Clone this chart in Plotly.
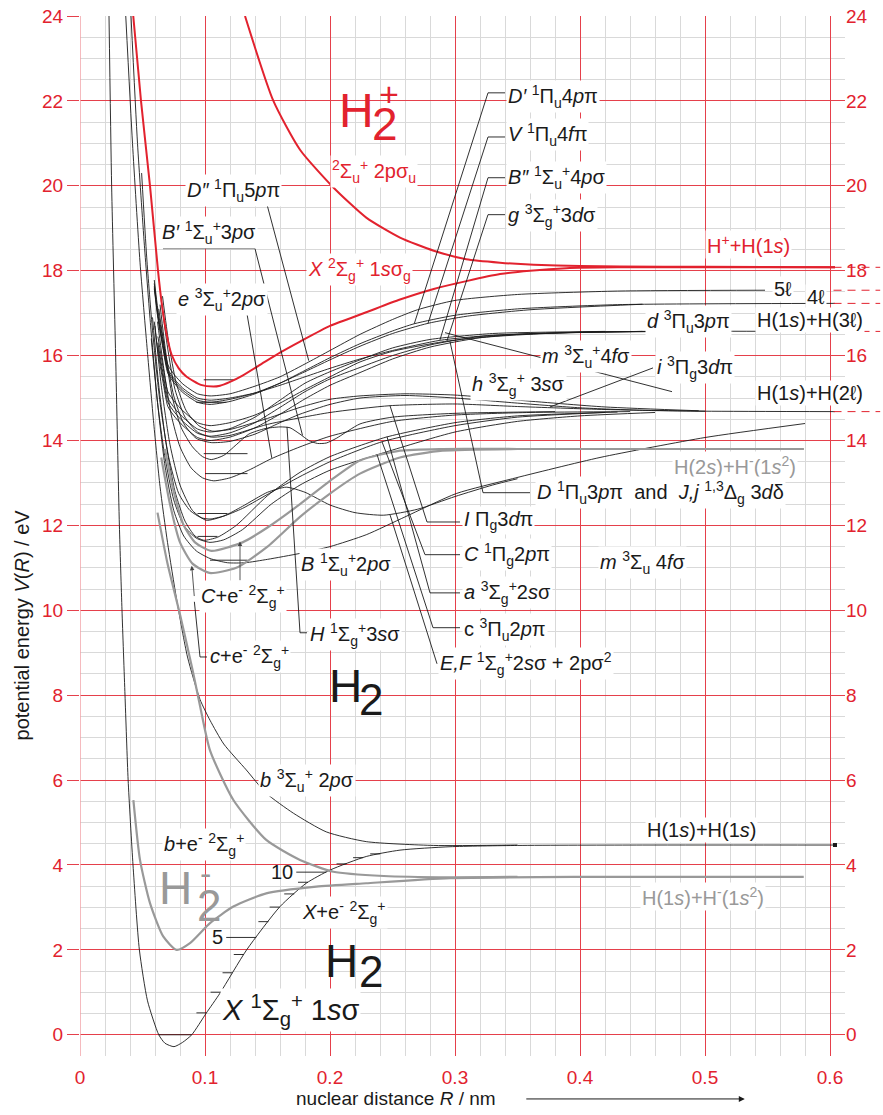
import numpy as np
import plotly.graph_objects as go

RED = '#e2222e'
RED_GRID = '#e5404b'
MINOR_GRID = '#d9d9d9'
GRAY = '#999999'
INK = '#1a1a1a'
FONT = 'Liberation Sans, Arial, Helvetica, sans-serif'

# ---------------- potential energy curves: R / nm, V / eV ----------------
# H2 ground state X 1Sigma_g+
R_X = [0.0232, 0.0253, 0.0285, 0.0315, 0.0336, 0.036, 0.0385, 0.0424, 0.0475, 0.054, 0.063, 0.068,
       0.0752, 0.082, 0.0894, 0.101, 0.112, 0.1333, 0.16, 0.181, 0.2, 0.229, 0.256, 0.296, 0.35, 0.45, 0.604]
V_X = [24, 20, 16, 12, 10, 8, 6, 4, 2, 0.8, 0, -0.2,
       -0.28, -0.18, 0, 0.51, 0.98, 2.0, 3.02, 3.57, 3.88, 4.2, 4.35, 4.43, 4.46, 4.47, 4.47]
# vibrational levels of X (eV above v=0)
X_LEVELS = [0.0, 0.516, 1.003, 1.461, 1.891, 2.293, 2.665, 3.008, 3.318, 3.593, 3.831, 4.026, 4.172, 4.262]

# b 3Sigma_u+ 2p sigma (repulsive)
R_b = [0.0366, 0.042, 0.048, 0.0539, 0.059, 0.064, 0.07, 0.0774, 0.086, 0.096, 0.104, 0.115, 0.133,
       0.149, 0.1707, 0.197, 0.229, 0.283, 0.35]
V_b = [24, 21, 18.2, 16.1, 14.4, 12.92, 11.6, 10.24, 8.9, 7.9, 7.41, 6.85, 6.24,
       5.69, 5.22, 4.78, 4.55, 4.46, 4.47]

# n = 2 states
R_B = [0.0408, 0.046, 0.0515, 0.0565, 0.062, 0.068, 0.075, 0.083, 0.093, 0.104, 0.118, 0.132, 0.15,
       0.176, 0.2, 0.229, 0.26, 0.301, 0.346, 0.416, 0.5, 0.58]
V_B = [24, 21, 18.6, 16.7, 14.9, 13.4, 12.35, 11.75, 11.4, 11.22, 11.12, 11.12, 11.2,
       11.34, 11.5, 11.78, 12.2, 12.75, 13.1, 13.6, 14.07, 14.4]
R_C = [0.0493, 0.0534, 0.058, 0.064, 0.071, 0.079, 0.088, 0.097, 0.104, 0.115, 0.13, 0.153, 0.176,
       0.2, 0.2416, 0.3, 0.35, 0.42]
V_C = [20.3, 18.3, 16.6, 14.9, 13.6, 12.75, 12.35, 12.18, 12.15, 12.22, 12.4, 12.78, 13.15,
       13.5, 13.97, 14.35, 14.55, 14.66]
R_c = [0.057, 0.062, 0.068, 0.075, 0.083, 0.093, 0.104, 0.115, 0.13, 0.153, 0.176, 0.2, 0.245,
       0.3, 0.35, 0.4, 0.46]
V_c = [16.4, 14.9, 13.6, 12.6, 12.0, 11.7, 11.6, 11.66, 11.9, 12.5, 12.95, 13.3, 13.73,
       14.2, 14.45, 14.58, 14.66]
R_a = [0.058, 0.063, 0.069, 0.076, 0.084, 0.092, 0.099, 0.11, 0.125, 0.15, 0.176, 0.2, 0.245,
       0.3, 0.35, 0.43]
V_a = [16.9, 15.3, 13.9, 12.8, 12.1, 11.75, 11.65, 11.72, 12.0, 12.7, 13.25, 13.62, 14.08,
       14.42, 14.58, 14.67]
R_EF = [0.06, 0.065, 0.072, 0.08, 0.09, 0.101, 0.115, 0.13, 0.15, 0.165, 0.18, 0.2, 0.22, 0.243,
        0.27, 0.3, 0.33, 0.35]
V_EF = [16.7, 15.3, 13.9, 12.95, 12.35, 12.12, 12.22, 12.45, 12.78, 12.9, 12.78, 12.48, 12.3, 12.24,
        12.38, 12.68, 12.95, 13.1]
R_e = [0.062, 0.067, 0.073, 0.08, 0.089, 0.098, 0.107, 0.12, 0.135, 0.153, 0.176, 0.2, 0.25,
       0.3, 0.36, 0.44]
V_e = [16.8, 15.7, 14.6, 13.85, 13.35, 13.12, 13.05, 13.12, 13.3, 13.57, 13.85, 14.1, 14.45,
       14.6, 14.66, 14.68]
R_Bp = [0.063, 0.068, 0.074, 0.081, 0.09, 0.098, 0.105, 0.115, 0.125, 0.135, 0.148, 0.16, 0.168,
        0.176, 0.183, 0.19, 0.197, 0.205, 0.224, 0.25, 0.3, 0.38]
V_Bp = [17.1, 16.1, 15.0, 14.3, 13.85, 13.62, 13.55, 13.65, 13.9, 14.15, 14.28, 14.32, 14.3,
        14.15, 14.0, 13.93, 13.94, 14.05, 14.39, 14.55, 14.64, 14.68]

# n = 3 states correlating with H(1s)+H(2l)
R_h = [0.064, 0.069, 0.075, 0.083, 0.093, 0.105, 0.12, 0.14, 0.16, 0.176, 0.2, 0.224, 0.26, 0.3,
       0.35, 0.4, 0.45, 0.5, 0.604]
V_h = [17.2, 16.0, 15.05, 14.4, 14.05, 13.95, 13.98, 14.15, 14.42, 14.62, 14.85, 15.0, 15.06, 15.0,
       14.88, 14.77, 14.71, 14.69, 14.68]
R_I = [0.065, 0.07, 0.076, 0.084, 0.094, 0.105, 0.12, 0.15, 0.2, 0.248, 0.3, 0.35, 0.42, 0.5]
V_I = [17.3, 16.2, 15.2, 14.55, 14.2, 14.08, 14.12, 14.38, 14.66, 14.82, 14.86, 14.8, 14.73, 14.69]
R_m = [0.066, 0.071, 0.077, 0.085, 0.095, 0.106, 0.12, 0.15, 0.176, 0.2, 0.224, 0.26, 0.3, 0.35,
       0.42, 0.495]
V_m = [17.4, 16.3, 15.35, 14.7, 14.35, 14.22, 14.26, 14.52, 14.78, 14.97, 15.05, 15.1, 15.07, 14.95,
       14.79, 14.7]

# n = 3 states correlating with H(1s)+H(3l)
R_d = [0.0594, 0.0623, 0.0663, 0.0703, 0.076, 0.0823, 0.094, 0.104, 0.12, 0.14, 0.16, 0.18, 0.2,
       0.224, 0.25, 0.28, 0.32, 0.38, 0.45, 0.604]
V_d = [16.8, 16.1, 15.4, 14.8, 14.55, 14.35, 14.07, 14.0, 14.08, 14.3, 14.62, 14.98, 15.3,
       15.6, 15.92, 16.2, 16.42, 16.53, 16.57, 16.57]
R_D = [0.0623, 0.0663, 0.0703, 0.076, 0.0823, 0.094, 0.104, 0.12, 0.14, 0.16, 0.18, 0.2, 0.224,
       0.25, 0.28, 0.32, 0.4, 0.487]
V_D = [16.2, 15.5, 14.9, 14.65, 14.45, 14.17, 14.1, 14.18, 14.42, 14.78, 15.15, 15.45, 15.72,
       16.0, 16.25, 16.45, 16.55, 16.57]
R_i = [0.0623, 0.0663, 0.0703, 0.076, 0.0823, 0.094, 0.104, 0.12, 0.14, 0.16, 0.18, 0.2, 0.224,
       0.25, 0.28, 0.33, 0.42]
V_i = [16.3, 15.6, 15.0, 14.75, 14.55, 14.27, 14.2, 14.28, 14.55, 14.95, 15.35, 15.62, 15.9,
       16.18, 16.38, 16.52, 16.57]
R_g = [0.0623, 0.0663, 0.0703, 0.076, 0.0823, 0.094, 0.104, 0.12, 0.14, 0.16, 0.18, 0.2, 0.224,
       0.25, 0.2935, 0.35, 0.45]
V_g = [16.45, 15.75, 15.15, 14.9, 14.7, 14.42, 14.35, 14.42, 14.6, 14.88, 15.2, 15.5, 15.85,
       16.1, 16.34, 16.5, 16.57]

# n = 4 and n = 5 states
R_Bpp = [0.0594, 0.0623, 0.0663, 0.0703, 0.076, 0.0823, 0.094, 0.104, 0.12, 0.14, 0.16, 0.18, 0.2,
         0.224, 0.25, 0.288, 0.33, 0.4, 0.48]
V_Bpp = [17.7, 16.98, 16.28, 15.68, 15.43, 15.23, 15.0, 14.95, 15.0, 15.12, 15.3, 15.5, 15.7,
         15.92, 16.12, 16.36, 16.48, 16.55, 16.57]
R_V = [0.0594, 0.0623, 0.0663, 0.0703, 0.076, 0.0823, 0.094, 0.104, 0.12, 0.14, 0.16, 0.18, 0.2,
       0.224, 0.25, 0.2784, 0.31, 0.36, 0.45]
V_V = [17.63, 16.93, 16.23, 15.63, 15.38, 15.18, 14.95, 14.9, 14.97, 15.12, 15.35, 15.62, 15.9,
       16.22, 16.52, 16.76, 16.93, 17.08, 17.21]
R_Dp = [0.0594, 0.0623, 0.0663, 0.0703, 0.076, 0.0823, 0.094, 0.104, 0.12, 0.14, 0.16, 0.18, 0.2,
        0.224, 0.25, 0.2674, 0.3, 0.35, 0.43, 0.604]
V_Dp = [17.58, 16.88, 16.18, 15.58, 15.33, 15.13, 14.9, 14.85, 14.92, 15.1, 15.35, 15.65, 15.95,
        16.28, 16.58, 16.75, 16.95, 17.1, 17.2, 17.23]
R_Dpp = [0.0594, 0.0623, 0.0663, 0.0703, 0.076, 0.0823, 0.094, 0.104, 0.12, 0.14, 0.16, 0.183, 0.2,
         0.224, 0.25, 0.27, 0.3, 0.35, 0.43, 0.548]
V_Dpp = [17.78, 17.08, 16.38, 15.78, 15.53, 15.33, 15.1, 15.05, 15.1, 15.28, 15.5, 15.85, 16.12,
         16.5, 16.85, 17.08, 17.3, 17.44, 17.52, 17.54]

# H2+ ion
R_ion_X = [0.0426, 0.0488, 0.056, 0.0624, 0.0653, 0.0693, 0.0733, 0.079, 0.0853, 0.0967, 0.1067,
           0.112, 0.12, 0.13, 0.145, 0.16, 0.176, 0.2, 0.229, 0.256, 0.283, 0.31, 0.336, 0.36, 0.389,
           0.43, 0.604]
V_ion_X = [24, 22, 20, 18, 17.25, 16.5, 16.02, 15.7, 15.5, 15.31, 15.27,
           15.29, 15.38, 15.53, 15.8, 16.07, 16.33, 16.7, 17.02, 17.32, 17.57, 17.76, 17.92, 18.0, 18.06,
           18.08, 18.08]
R_ion_A = [0.132, 0.1547, 0.176, 0.2027, 0.229, 0.256, 0.283, 0.309, 0.336, 0.363, 0.4, 0.432, 0.5, 0.604]
V_ion_A = [24, 22, 20.85, 19.96, 19.25, 18.78, 18.47, 18.27, 18.19, 18.14, 18.11, 18.1, 18.09, 18.08]

# H2- resonances
R_Xe = [0.0427, 0.048, 0.056, 0.0667, 0.0773, 0.088, 0.104, 0.1227, 0.149, 0.189, 0.229, 0.296, 0.4, 0.579]
V_Xe = [5.53, 4.12, 3.1, 2.31, 2.0, 2.16, 2.63, 3.02, 3.33, 3.49, 3.57, 3.69, 3.72, 3.72]
R_be = [0.062, 0.07, 0.08, 0.09, 0.096, 0.104, 0.1227, 0.149, 0.176, 0.2027, 0.243, 0.296, 0.35]
V_be = [12.3, 11.1, 9.9, 8.6, 7.75, 6.7, 5.53, 4.59, 4.12, 3.84, 3.74, 3.71, 3.72]
R_Ce = [0.068, 0.075, 0.083, 0.092, 0.105, 0.13, 0.15, 0.176, 0.2, 0.224, 0.256, 0.29, 0.35, 0.579]
V_Ce = [13.8, 12.8, 12.0, 11.6, 11.4, 11.6, 11.95, 12.5, 13.05, 13.53, 13.76, 13.8, 13.8, 13.8]
R_ce = [0.065, 0.072, 0.08, 0.09, 0.1035, 0.125, 0.15, 0.176, 0.2, 0.224, 0.256, 0.29, 0.35, 0.579]
V_ce = [13.6, 12.5, 11.6, 11.1, 10.88, 11.0, 11.5, 12.2, 12.75, 13.22, 13.6, 13.76, 13.8, 13.8]

# lowest vibrational levels of excited states: energy, inner and outer R
LEVEL_V = [11.18, 11.74, 12.28, 13.22, 13.69, 14.9, 15.43]
LEVEL_R0 = [0.104, 0.094, 0.094, 0.1, 0.099, 0.093, 0.099]
LEVEL_R1 = [0.134, 0.110, 0.118, 0.134, 0.134, 0.117, 0.123]

# dissociation limits drawn past the axis end
LIMITS = [18.08, 17.54, 17.23, 16.57, 14.68]

fig = go.Figure()


def curve(R, V, color=INK, width=0.9):
    fig.add_trace(go.Scatter(x=R, y=V, mode='lines',
                             line=dict(color=color, width=width, shape='spline', smoothing=0.6),
                             hoverinfo='skip', showlegend=False))


for R, V in [(R_X, V_X), (R_b, V_b), (R_B, V_B), (R_C, V_C), (R_c, V_c), (R_a, V_a),
             (R_EF, V_EF), (R_e, V_e), (R_Bp, V_Bp), (R_h, V_h), (R_I, V_I), (R_m, V_m),
             (R_d, V_d), (R_D, V_D), (R_i, V_i), (R_g, V_g), (R_Bpp, V_Bpp), (R_V, V_V),
             (R_Dp, V_Dp), (R_Dpp, V_Dpp)]:
    curve(R, V)

# vibrational ground levels of the excited states
for v, r0, r1 in zip(LEVEL_V, LEVEL_R0, LEVEL_R1):
    fig.add_trace(go.Scatter(x=[r0, r1], y=[v, v], mode='lines', line=dict(color=INK, width=0.9),
                             hoverinfo='skip', showlegend=False))

# vibrational ladder of the ground state, ticks ending on the outer wall
imin = int(np.argmin(V_X))
outer_R = np.array(R_X[imin:])
outer_V = np.array(V_X[imin:])
inner_R = np.array(R_X[:imin + 1])[::-1]
inner_V = np.array(V_X[:imin + 1])[::-1]
for k, lev in enumerate(X_LEVELS):
    r_out = float(np.interp(lev, outer_V, outer_R))
    if k == 0:
        r_in = float(np.interp(lev, inner_V, inner_R))
    else:
        r_in = r_out - (0.024 if k in (5, 10) else 0.008)
    fig.add_trace(go.Scatter(x=[r_in, r_out], y=[lev, lev], mode='lines', line=dict(color=INK, width=0.9),
                             hoverinfo='skip', showlegend=False))
    if k in (5, 10):
        fig.add_annotation(x=r_in - 0.001, y=lev, text=str(k), showarrow=False, xanchor='right',
                           font=dict(size=20, color=INK))

# end mark of H(1s)+H(1s)
fig.add_trace(go.Scatter(x=[R_X[-1]], y=[V_X[-1]], mode='markers',
                         marker=dict(symbol='square', size=4, color=INK), hoverinfo='skip', showlegend=False))

for R, V in [(R_Xe, V_Xe), (R_be, V_be), (R_Ce, V_Ce), (R_ce, V_ce)]:
    curve(R, V, GRAY, 2.2)
for R, V in [(R_ion_X, V_ion_X), (R_ion_A, V_ion_A)]:
    curve(R, V, RED, 2.0)

# invisible trace carrying the right-hand energy scale
fig.add_trace(go.Scatter(x=[0.3], y=[10], yaxis='y2', mode='markers', marker=dict(opacity=0),
                         hoverinfo='skip', showlegend=False))

# ---------------- leader lines ----------------
LEADERS = [
    [(0.0894, 19.58), (0.1494, 19.58), (0.183, 15.88)],      # D''
    [(0.0664, 18.52), (0.14, 18.52), (0.178, 14.12)],        # B'
    [(0.0784, 16.98), (0.1336, 16.98), (0.1534, 13.59)],     # e
    [(0.34, 22.19), (0.3264, 22.19), (0.2674, 16.75)],       # D'
    [(0.34, 21.15), (0.3264, 21.15), (0.2784, 16.76)],       # V
    [(0.34, 20.19), (0.3264, 20.19), (0.288, 16.37)],        # B''
    [(0.34, 19.32), (0.3264, 19.32), (0.2935, 16.34)],       # g
    [(0.36, 12.77), (0.3224, 12.77), (0.296, 16.33)],        # D and J, j
    [(0.304, 12.08), (0.2776, 12.08), (0.248, 14.82)],       # I
    [(0.304, 11.31), (0.276, 11.31), (0.2416, 13.97)],       # C
    [(0.304, 10.41), (0.28, 10.41), (0.2456, 14.09)],        # a
    [(0.304, 9.59), (0.2824, 9.59), (0.2376, 13.67)],        # c
    [(0.2856, 8.74), (0.248, 12.25)],                        # E,F
    [(0.1816, 9.47), (0.176, 9.47), (0.1656, 14.32)],        # H
    [(0.4584, 15.71), (0.376, 14.79)],                       # i
    [(0.292, 16.54), (0.4736, 15.15)],                       # m
    [(0.1016, 8.9), (0.096, 8.9), (0.0915, 10.2)],           # c+e-
]
for pts in LEADERS:
    for (x0, y0), (x1, y1) in zip(pts[:-1], pts[1:]):
        fig.add_shape(type='line', x0=x0, y0=y0, x1=x1, y1=y1, xref='x', yref='y',
                      line=dict(color=INK, width=0.9), layer='above')

# arrows onto the H2- resonance curves
for (xa, ya), (xb, yb) in [((0.128, 10.67), (0.128, 11.62)), ((0.0915, 10.3), (0.0894, 11.05))]:
    fig.add_annotation(x=xb, y=yb, ax=xa, ay=ya, xref='x', yref='y', axref='x', ayref='y',
                       text='', showarrow=True, arrowhead=2, arrowsize=1, arrowwidth=0.9,
                       arrowcolor='#444444')

# dissociation limits continued outside the frame
for lim in LIMITS:
    fig.add_shape(type='line', xref='paper', yref='y', x0=0.985, x1=1.046, y0=lim, y1=lim,
                  line=dict(color=RED, width=1, dash='8px,6px'))

# pale left frame line
fig.add_shape(type='line', xref='x', yref='paper', x0=0, x1=0, y0=0, y1=1,
              line=dict(color='#f2a3a8', width=1.5))

# ---------------- state labels ----------------
S = 20
LABELS = [
    ('<sup>2</sup>Σ<sub>u</sub><sup>+</sup> 2pσ<sub>u</sub>', 0.2, 20.33, S, RED),
    ('<i>X</i> <sup>2</sup>Σ<sub>g</sub><sup>+</sup> 1<i>s</i>σ<sub>g</sub>', 0.181, 18.02, S, RED),
    ('H<sup>+</sup>+H(1<i>s</i>)', 0.5, 18.61, S, RED),
    ('<i>D″</i> <sup>1</sup>Π<sub>u</sub>5<i>p</i>π', 0.084, 19.9, S, INK),
    ('<i>B′</i> <sup>1</sup>Σ<sub>u</sub><sup>+</sup>3<i>p</i>σ', 0.064, 18.89, S, INK),
    ('<i>e</i> <sup>3</sup>Σ<sub>u</sub><sup>+</sup>2<i>p</i>σ', 0.0768, 17.31, S, INK),
    ('<i>D′</i> <sup>1</sup>Π<sub>u</sub>4<i>p</i>π', 0.3408, 22.1, S, INK),
    ('<i>V</i> <sup>1</sup>Π<sub>u</sub>4<i>f</i>π', 0.3408, 21.2, S, INK),
    ('<i>B″</i> <sup>1</sup>Σ<sub>u</sub><sup>+</sup>4<i>p</i>σ', 0.3408, 20.19, S, INK),
    ('<i>g</i> <sup>3</sup>Σ<sub>g</sub><sup>+</sup>3<i>d</i>σ', 0.3408, 19.29, S, INK),
    ('5ℓ', 0.5536, 17.57, S, INK),
    ('4ℓ', 0.58, 17.38, S, INK),
    ('<i>d</i> <sup>3</sup>Π<sub>u</sub>3<i>p</i>π', 0.452, 16.8, S, INK),
    ('H(1<i>s</i>)+H(3ℓ)', 0.54, 16.84, S, INK),
    ('<i>m</i> <sup>3</sup>Σ<sub>u</sub><sup>+</sup>4<i>f</i>σ', 0.368, 15.97, S, INK),
    ('<i>i</i> <sup>3</sup>Π<sub>g</sub>3<i>d</i>π', 0.46, 15.71, S, INK),
    ('H(1<i>s</i>)+H(2ℓ)', 0.54, 15.12, S, INK),
    ('<i>h</i> <sup>3</sup>Σ<sub>g</sub><sup>+</sup> 3<i>s</i>σ', 0.312, 15.31, S, INK),
    ('H(2<i>s</i>)+H<sup>-</sup>(1<i>s</i><sup>2</sup>)', 0.4736, 13.4, S, GRAY),
    ('<i>D</i> <sup>1</sup>Π<sub>u</sub>3<i>p</i>π  and  <i>J,j</i> <sup>1,3</sup>Δ<sub>g</sub> 3<i>d</i>δ',
     0.364, 12.77, S, INK),
    ('<i>I</i> Π<sub>g</sub>3<i>d</i>π', 0.3056, 12.11, S, INK),
    ('<i>C</i> <sup>1</sup>Π<sub>g</sub>2<i>p</i>π', 0.3056, 11.31, S, INK),
    ('<i>m</i> <sup>3</sup>Σ<sub>u</sub> 4<i>f</i>σ', 0.4144, 11.12, S, INK),
    ('<i>a</i> <sup>3</sup>Σ<sub>g</sub><sup>+</sup>2<i>s</i>σ', 0.3056, 10.41, S, INK),
    ('c <sup>3</sup>Π<sub>u</sub>2<i>p</i>π', 0.3056, 9.54, S, INK),
    ('<i>E,F</i> <sup>1</sup>Σ<sub>g</sub><sup>+</sup>2<i>s</i>σ + 2pσ<sup>2</sup>', 0.2864, 8.74, S, INK),
    ('<i>B</i> <sup>1</sup>Σ<sub>u</sub><sup>+</sup>2<i>p</i>σ', 0.175, 11.07, S, INK),
    ('<i>C</i>+e<sup>-</sup> <sup>2</sup>Σ<sub>g</sub><sup>+</sup>', 0.095, 10.32, S, INK),
    ('<i>H</i> <sup>1</sup>Σ<sub>g</sub><sup>+</sup>3<i>s</i>σ', 0.1824, 9.42, S, INK),
    ('<i>c</i>+e<sup>-</sup> <sup>2</sup>Σ<sub>g</sub><sup>+</sup>', 0.1024, 8.9, S, INK),
    ('<i>b</i> <sup>3</sup>Σ<sub>u</sub><sup>+</sup> 2<i>p</i>σ', 0.1424, 6.0, S, INK),
    ('<i>b</i>+e<sup>-</sup> <sup>2</sup>Σ<sub>g</sub><sup>+</sup>', 0.0656, 4.48, S, INK),
    ('H(1<i>s</i>)+H(1<i>s</i>)', 0.452, 4.83, S, INK),
    ('H(1<i>s</i>)+H<sup>-</sup>(1<i>s</i><sup>2</sup>)', 0.448, 3.25, S, GRAY),
    ('<i>X</i>+e<sup>-</sup> <sup>2</sup>Σ<sub>g</sub><sup>+</sup>', 0.176, 2.87, S, INK),
    ('<i>X</i> <sup>1</sup>Σ<sub>g</sub><sup>+</sup> 1<i>s</i>σ', 0.112, 0.59, 29, INK),
]
for text, x, y, size, color in LABELS:
    fig.add_annotation(x=x, y=y, text=text, showarrow=False, xanchor='left', yanchor='middle',
                       font=dict(size=size, color=color), bgcolor='white', borderpad=1)

# large molecule symbols
BIG = [
    ('H', 0.2054, 21.77, 48, RED), ('2', 0.232, 21.46, 46, RED), ('+', 0.2375, 22.17, 34, RED),
    ('H', 0.1974, 8.22, 46, INK), ('2', 0.2214, 7.9, 44, INK),
    ('H', 0.1944, 1.74, 46, INK), ('2', 0.2216, 1.5, 44, INK),
    ('H', 0.0614, 3.45, 46, GRAY), ('2', 0.0916, 3.05, 44, GRAY), ('-', 0.0946, 3.82, 34, GRAY),
]
for text, x, y, size, color in BIG:
    fig.add_annotation(x=x, y=y, text=text, showarrow=False, xanchor='left', yanchor='middle',
                       font=dict(size=size, color=color))

# axis titles
fig.add_annotation(xref='paper', yref='paper', x=-0.0758, y=0.414, xanchor='center', yanchor='middle',
                   textangle=-90, showarrow=False,
                   text='potential energy <i>V</i>(<i>R</i>) / eV', font=dict(size=20, color=INK))
fig.add_annotation(xref='paper', yref='paper', x=0.413, y=-0.0413, xanchor='center', yanchor='middle',
                   showarrow=False, text='nuclear distance <i>R</i> / nm', font=dict(size=19, color=INK))
fig.add_annotation(xref='paper', yref='paper', x=0.869, y=-0.0413, ax=-220, ay=0, text='',
                   showarrow=True, arrowhead=2, arrowsize=1.2, arrowwidth=1, arrowcolor=INK)

fig.update_layout(
    width=883, height=1115,
    margin=dict(l=80, r=38, t=16, b=59, autoexpand=False),
    paper_bgcolor='white', plot_bgcolor='white',
    font=dict(family=FONT, size=17, color=INK),
    showlegend=False,
    xaxis=dict(range=[0, 0.612], tick0=0, dtick=0.1, showgrid=True, gridcolor=RED_GRID, gridwidth=1,
               minor=dict(tick0=0, dtick=0.02, showgrid=True, gridcolor=MINOR_GRID, gridwidth=1),
               zeroline=False, showline=False, ticks='', tickfont=dict(color=RED, size=19),
               ticklabelstandoff=8, automargin=False),
    yaxis=dict(range=[-0.5, 24], tick0=0, dtick=2, showgrid=True, gridcolor=RED_GRID, gridwidth=1,
               minor=dict(tick0=0, dtick=0.5, showgrid=True, gridcolor=MINOR_GRID, gridwidth=1),
               zeroline=False, showline=False, ticks='outside', ticklen=12, tickcolor=RED_GRID,
               tickfont=dict(color=RED, size=19), automargin=False),
    yaxis2=dict(range=[-0.5, 24], overlaying='y', side='right', tick0=0, dtick=2, showgrid=False,
                zeroline=False, showline=False, ticks='', tickfont=dict(color=RED, size=19),
                automargin=False),
)

fig.write_html('out.html')
